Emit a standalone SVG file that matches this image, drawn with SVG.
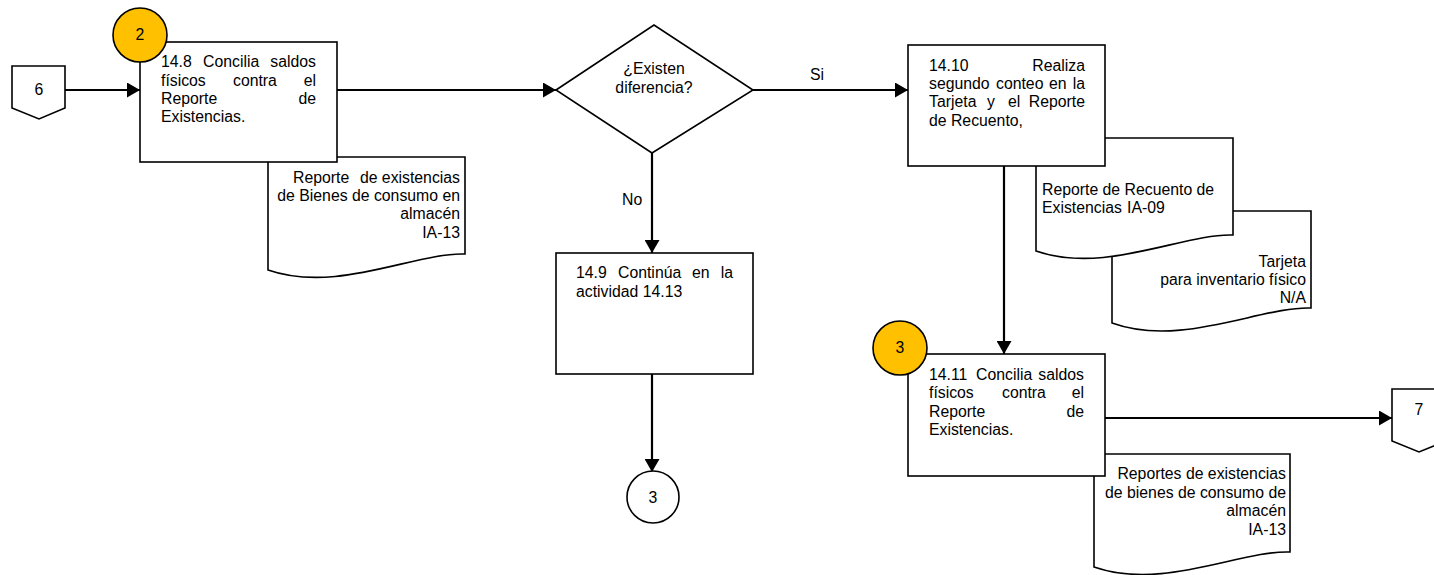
<svg xmlns="http://www.w3.org/2000/svg" width="1434" height="575" viewBox="0 0 1434 575">
<style>
text{font-family:"Liberation Sans",Arial,sans-serif;font-size:15.8px;fill:#000}
.shape{fill:#fff;stroke:#000;stroke-width:1.6}
.yel{fill:#FFC000;stroke:#000;stroke-width:1.6}
.edge{fill:none;stroke:#000;stroke-width:2.2}
.r{text-anchor:end}
.m{text-anchor:middle}
</style>
<defs>
<marker id="ah" markerUnits="userSpaceOnUse" markerWidth="13" markerHeight="15" refX="13" refY="7.5" orient="auto">
<path d="M0,0 L13,7.5 L0,15 z" fill="#000"/>
</marker>
</defs>
<rect width="1434" height="575" fill="#fff"/>

<g id="connectors">
<line class="edge" x1="65" y1="90" x2="140" y2="90" marker-end="url(#ah)"/>
<line class="edge" x1="337" y1="90" x2="556" y2="90" marker-end="url(#ah)"/>
<line class="edge" x1="753" y1="90" x2="908" y2="90" marker-end="url(#ah)"/>
<line class="edge" x1="652" y1="153" x2="652" y2="253" marker-end="url(#ah)"/>
<line class="edge" x1="652" y1="374" x2="652" y2="472" marker-end="url(#ah)"/>
<line class="edge" x1="1004" y1="166" x2="1004" y2="354" marker-end="url(#ah)"/>
<line class="edge" x1="1105" y1="418" x2="1392" y2="418" marker-end="url(#ah)"/>
<text x="810" y="80">Si</text>
<text x="622" y="205">No</text>
</g>

<g id="conn6">
<path class="shape" d="M12,66 H65 V108 L39,119 L12,108 Z"/>
<text class="m" x="39" y="95">6</text>
</g>

<g id="doc1">
<path class="shape" d="M268,157 H465 V254 C416,252 337,294 268,270 Z"/>
<text x="293" y="183">Reporte</text>
<text class="r" x="460" y="183">de existencias</text>
<text class="r" x="460" y="201">de Bienes de consumo en</text>
<text class="r" x="460" y="219">almacén</text>
<text class="r" x="460" y="238">IA-13</text>
</g>

<g id="task148">
<rect class="shape" x="140" y="42" width="197" height="120"/>
<text x="161" y="67">14.8</text>
<text x="203" y="67">Concilia</text>
<text class="r" x="316" y="67">saldos</text>
<text x="161" y="86">físicos</text>
<text x="233" y="86">contra</text>
<text class="r" x="316" y="86">el</text>
<text x="161" y="104">Reporte</text>
<text class="r" x="316" y="104">de</text>
<text x="161" y="122">Existencias.</text>
</g>

<g id="circ2">
<circle class="yel" cx="140" cy="35" r="27"/>
<text class="m" x="140" y="40">2</text>
</g>

<g id="decision">
<path class="shape" d="M556,90 L654,25 L753,90 L652,153 Z"/>
<text class="m" x="654" y="74">¿Existen</text>
<text class="m" x="654" y="93">diferencia?</text>
</g>

<g id="task149">
<rect class="shape" x="556" y="253" width="197" height="121"/>
<text x="576" y="278">14.9</text>
<text x="618" y="278">Continúa</text>
<text x="692" y="278">en</text>
<text class="r" x="733" y="278">la</text>
<text x="576" y="297">actividad 14.13</text>
</g>

<g id="circ3w">
<circle class="shape" cx="653" cy="497" r="26"/>
<text class="m" x="653" y="503">3</text>
</g>

<g id="doc3">
<path class="shape" d="M1112,211 H1311 V308 C1262,306 1181,348 1112,323 Z"/>
<text class="r" x="1306" y="267">Tarjeta</text>
<text class="r" x="1306" y="285">para inventario físico</text>
<text class="r" x="1306" y="303">N/A</text>
</g>

<g id="doc2">
<path class="shape" d="M1036,138 H1233 V235 C1184,233 1105,275 1036,251 Z"/>
<text x="1042" y="195">Reporte de Recuento de</text>
<text x="1042" y="213">Existencias</text>
<text x="1127" y="213">IA-09</text>
</g>

<g id="task1410">
<rect class="shape" x="908" y="45" width="197" height="121"/>
<text x="929" y="71">14.10</text>
<text class="r" x="1085" y="71">Realiza</text>
<text x="929" y="89">segundo</text>
<text x="996" y="89">conteo</text>
<text x="1049" y="89">en</text>
<text class="r" x="1085" y="89">la</text>
<text x="929" y="107">Tarjeta</text>
<text x="987" y="107">y</text>
<text x="1008" y="107">el</text>
<text class="r" x="1085" y="107">Reporte</text>
<text x="929" y="126">de Recuento,</text>
</g>

<g id="doc4">
<path class="shape" d="M1094,454 H1290 V552 C1241,550 1163,591 1094,567 Z"/>
<text class="r" x="1286" y="479">Reportes de existencias</text>
<text class="r" x="1286" y="498">de bienes de consumo de</text>
<text class="r" x="1286" y="516">almacén</text>
<text class="r" x="1286" y="535">IA-13</text>
</g>

<g id="task1411">
<rect class="shape" x="908" y="354" width="197" height="122"/>
<text x="929" y="380">14.11</text>
<text x="976" y="380">Concilia</text>
<text class="r" x="1084" y="380">saldos</text>
<text x="929" y="398">físicos</text>
<text x="1002" y="398">contra</text>
<text class="r" x="1084" y="398">el</text>
<text x="929" y="417">Reporte</text>
<text class="r" x="1084" y="417">de</text>
<text x="929" y="435">Existencias.</text>
</g>

<g id="circ3y">
<circle class="yel" cx="900" cy="348" r="27"/>
<text class="m" x="900" y="353">3</text>
</g>

<g id="conn7">
<path class="shape" d="M1392,389 H1446 V441 L1419,452 L1392,441 Z"/>
<text class="m" x="1419" y="415">7</text>
</g>
</svg>
